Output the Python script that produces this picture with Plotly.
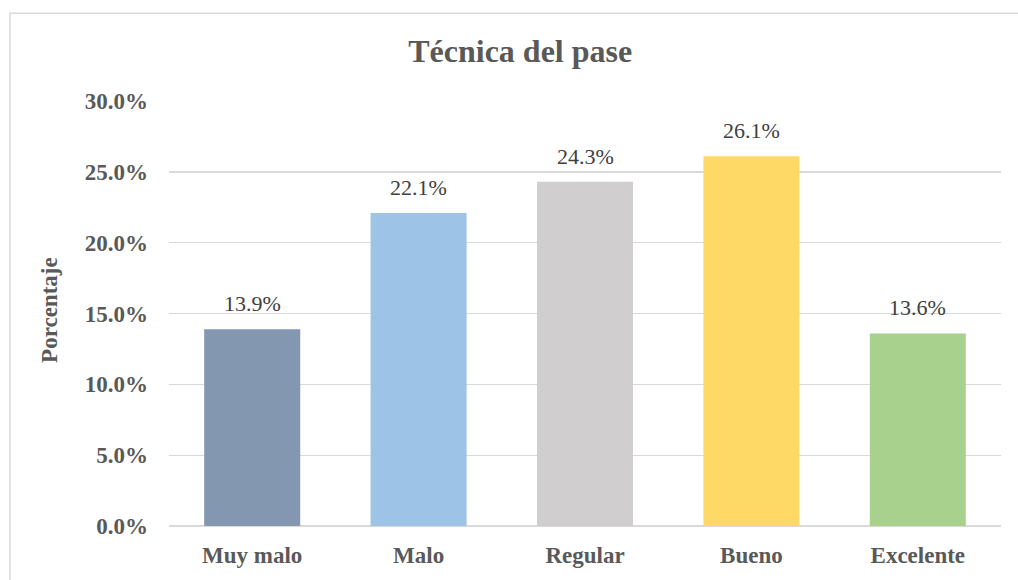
import plotly.graph_objects as go

categories = ["Muy malo", "Malo", "Regular", "Bueno", "Excelente"]
values = [0.139, 0.221, 0.243, 0.261, 0.136]
colors = ["#8497B0", "#9DC3E6", "#D0CECE", "#FFD966", "#A9D18E"]
y_ticks = [0, 0.05, 0.10, 0.15, 0.20, 0.25, 0.30]

SERIF = "Liberation Serif, Times New Roman, serif"

fig = go.Figure()
fig.add_trace(go.Bar(
    x=categories,
    y=values,
    marker=dict(color=colors, line=dict(width=0)),
    hoverinfo="skip",
))

label_annotations = [
    dict(
        x=c, y=v, xref="x", yref="y",
        text=f"{v * 100:.1f}%",
        showarrow=False, xanchor="center", yanchor="bottom", yshift=11,
        font=dict(family=SERIF, size=22, color="#404040"),
    )
    for c, v in zip(categories, values)
]

fig.update_layout(
    width=1018,
    height=580,
    margin=dict(l=169, r=17, t=101, b=48),
    paper_bgcolor="white",
    plot_bgcolor="white",
    showlegend=False,
    bargap=0.423,
    title=dict(
        text="Técnica del pase",
        font=dict(family=SERIF, size=32, color="#595959", weight="bold"),
        x=0.511, xanchor="center",
        y=1 - 51 / 580, yanchor="middle", yref="container",
    ),
    xaxis=dict(
        tickfont=dict(family=SERIF, size=23, color="#595959", weight="bold"),
        showgrid=False,
        showline=False,
        zeroline=False,
        ticks="",
        ticklabelstandoff=13,
    ),
    yaxis=dict(
        range=[0, 0.3001],
        tickvals=y_ticks,
        tickformat=".1%",
        tickfont=dict(family=SERIF, size=23, color="#595959", weight="bold"),
        showgrid=True,
        gridcolor="#D9D9D9",
        gridwidth=1.3,
        zeroline=True,
        zerolinecolor="#D9D9D9",
        zerolinewidth=1.3,
        showline=False,
        ticks="",
        ticklabelstandoff=20,
    ),
    annotations=label_annotations + [dict(
        text="Porcentaje",
        xref="paper", yref="paper",
        x=(49 - 169) / 831, y=(531 - 312) / 431,
        xanchor="center", yanchor="middle",
        textangle=-90, showarrow=False,
        font=dict(family=SERIF, size=23, color="#595959", weight="bold"),
    )],
    shapes=[dict(
        type="rect", xref="paper", yref="paper",
        x0=(10 - 169) / 832, x1=1.2,
        y0=-0.5, y1=(531 - 11) / 431,
        line=dict(color="#D9D9D9", width=1.5),
        fillcolor="rgba(0,0,0,0)",
        layer="below",
    )],
)

fig.write_html(
    "out.html",
    config={"displayModeBar": False, "staticPlot": True},
    post_script="document.body.style.margin='0';document.body.style.padding='0';document.body.style.overflow='hidden';",
)
